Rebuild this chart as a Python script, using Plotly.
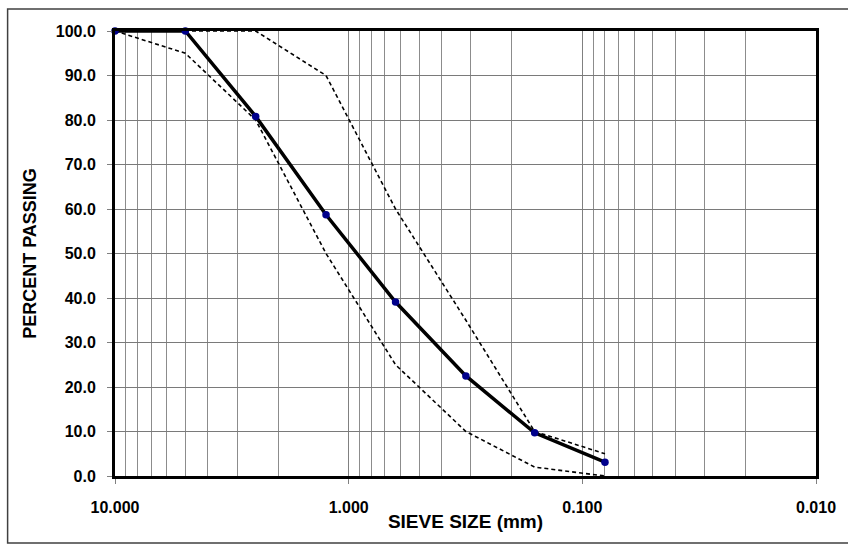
import plotly.graph_objects as go

# Sieve sizes (mm)
sieve_sizes = [10.0, 5.0, 2.5, 1.25, 0.63, 0.315, 0.16, 0.08]
# Measured percent passing
percent_passing = [100.0, 100.0, 80.8, 58.7, 39.1, 22.5, 9.7, 3.1]
# Specification limits
upper_limit = [100.0, 100.0, 100.0, 90.0, 60.0, 35.0, 10.0, 5.0]
lower_limit = [100.0, 95.0, 80.0, 50.0, 25.0, 10.0, 2.0, 0.0]

x_tick_vals = [10, 1, 0.1, 0.01]
x_tick_text = ["10.000", "1.000", "0.100", "0.010"]
y_tick_vals = [0, 10, 20, 30, 40, 50, 60, 70, 80, 90, 100]

minor_vals = [m * 10.0 ** e for e in (-2, -1, 0) for m in range(2, 10)]

FONT = "Liberation Sans, Arial, sans-serif"

fig = go.Figure()
for lim in (upper_limit, lower_limit):
    fig.add_trace(go.Scatter(
        x=sieve_sizes, y=lim, mode="lines",
        line=dict(color="black", width=1.6, dash="4px,3px"),
        showlegend=False, hoverinfo="skip", cliponaxis=False))
fig.add_trace(go.Scatter(
    x=sieve_sizes, y=percent_passing, mode="lines+markers",
    line=dict(color="black", width=3.5),
    marker=dict(color="#00008B", size=7.5),
    showlegend=False, cliponaxis=False))

fig.update_layout(
    width=848, height=544,
    margin=dict(l=115, r=28, t=31, b=68),
    paper_bgcolor="white", plot_bgcolor="white",
    font=dict(family=FONT, color="black"),
    xaxis=dict(
        type="log", range=[1, -2],
        tickmode="array", tickvals=x_tick_vals, ticktext=x_tick_text,
        showgrid=True, gridcolor="#808080", gridwidth=1,
        minor=dict(tickmode="array", tickvals=minor_vals, showgrid=True,
                   gridcolor="#8c8c8c", gridwidth=1, ticks=""),
        showline=True, linecolor="black", linewidth=3, mirror=True,
        ticks="outside", ticklen=5, tickcolor="#808080", tickwidth=1,
        ticklabelstandoff=10,
        tickfont=dict(family=FONT, size=16, color="black", weight="bold"),
        title=dict(text="<b>SIEVE SIZE (mm)</b>", standoff=0,
                   font=dict(family=FONT, size=19, color="black")),
        zeroline=False,
    ),
    yaxis=dict(
        range=[0, 100],
        tickmode="array", tickvals=y_tick_vals, tickformat=".1f",
        showgrid=True, gridcolor="#7a7a7a", gridwidth=1,
        showline=True, linecolor="black", linewidth=3, mirror=True,
        ticks="outside", ticklen=5, tickcolor="#808080", tickwidth=1,
        ticklabelstandoff=8,
        tickfont=dict(family=FONT, size=16, color="black", weight="bold"),
        title=dict(text="<b>PERCENT PASSING</b>", standoff=15,
                   font=dict(family=FONT, size=18, color="black")),
        zeroline=False,
    ),
    shapes=[dict(type="rect", xref="paper", yref="paper",
                 x0=-(115 - 7) / 705, x1=1.2, y0=-(543 - 476) / 445, y1=1 + (31 - 9) / 445,
                 line=dict(color="#404040", width=1.5), layer="below")],
)

fig.write_html("out.html")
